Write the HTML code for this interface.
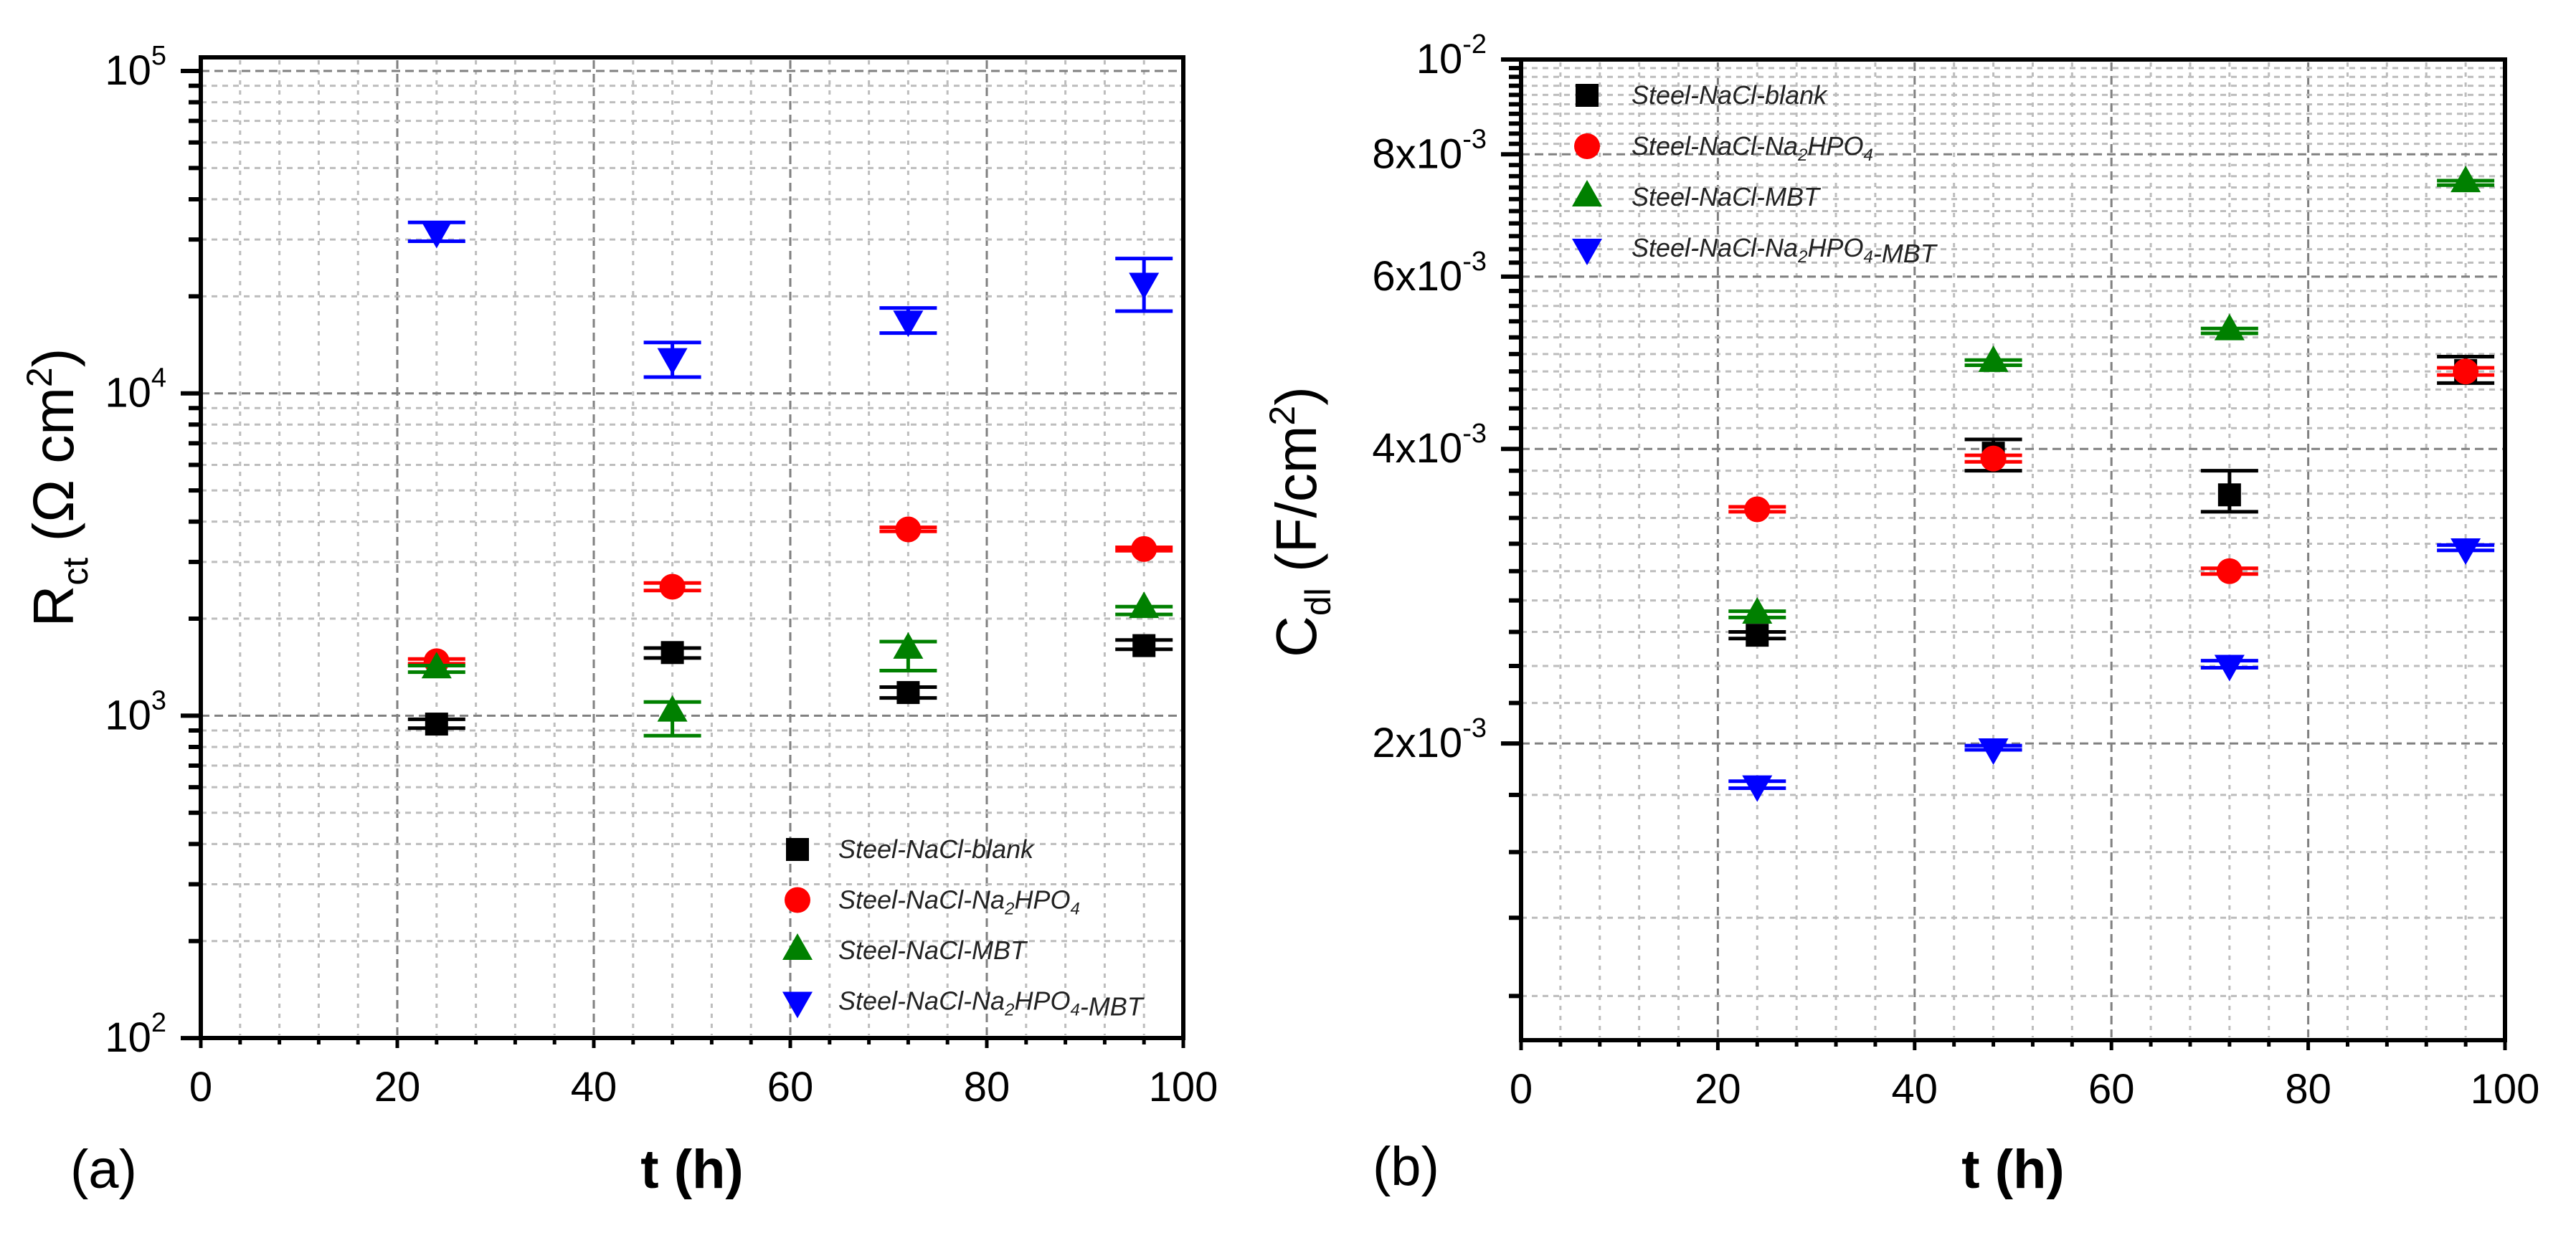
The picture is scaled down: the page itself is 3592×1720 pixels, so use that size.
<!DOCTYPE html>
<html><head><meta charset="utf-8"><style>
html,body{margin:0;padding:0;background:#fff;}
svg{display:block;font-family:"Liberation Sans",Arial,sans-serif;}
</style></head><body>
<svg id="fig" width="3592" height="1720" viewBox="0 0 3592 1720" xmlns="http://www.w3.org/2000/svg">
<g id="pa"></g>
<g id="pb"></g>
<text x="98" y="1657" font-size="76">(a)</text>
<text x="1914" y="1653" font-size="76">(b)</text>
<text x="965" y="1657" font-size="76" font-weight="bold" text-anchor="middle">t (h)</text>
<text x="2807" y="1657" font-size="76" font-weight="bold" text-anchor="middle">t (h)</text>
<text transform="translate(102,680) rotate(-90)" font-size="80" text-anchor="middle">R<tspan font-size="50" dy="20">ct</tspan><tspan dy="-20"> (Ω cm</tspan><tspan font-size="50" dy="-30">2</tspan><tspan dy="30">)</tspan></text>
<text transform="translate(1835,728) rotate(-90)" font-size="80" text-anchor="middle">C<tspan font-size="50" dy="20">dl</tspan><tspan dy="-20"> (F/cm</tspan><tspan font-size="50" dy="-30">2</tspan><tspan dy="30">)</tspan></text>
</svg>
<script>
// ---- data ----
const times = [24, 48, 72, 96];
const seriesNames = ["Steel-NaCl-blank", "Steel-NaCl-Na2HPO4", "Steel-NaCl-MBT", "Steel-NaCl-Na2HPO4-MBT"];
const xTicks = [0, 20, 40, 60, 80, 100];
// panel a: Rct (ohm cm2)
const rctBlank = [942, 1570, 1180, 1650];
const rctBlankHi = [975, 1622, 1227, 1718];
const rctBlankLo = [915, 1510, 1135, 1607];
const rctNa = [1476, 2512, 3784, 3290];
const rctNaHi = [1500, 2580, 3840, 3330];
const rctNaLo = [1450, 2445, 3730, 3250];
const rctMbt = [1396, 1025, 1606, 2148];
const rctMbtHi = [1430, 1103, 1698, 2180];
const rctMbtLo = [1365, 867, 1380, 2062];
const rctBoth = [31850, 12920, 16900, 22130];
const rctBothHi = [33900, 14380, 18400, 26190];
const rctBothLo = [29640, 11230, 15380, 17990];
const rctTickExp = [2, 3, 4, 5];
// panel b: Cdl (F/cm2)
const cdlBlank = [2.58e-3, 3.96e-3, 3.59e-3, 4.81e-3];
const cdlBlankHi = [2.60e-3, 4.09e-3, 3.80e-3, 4.97e-3];
const cdlBlankLo = [2.56e-3, 3.80e-3, 3.45e-3, 4.67e-3];
const cdlNa = [3.47e-3, 3.91e-3, 3.00e-3, 4.80e-3];
const cdlNaHi = [3.49e-3, 3.94e-3, 3.02e-3, 4.84e-3];
const cdlNaLo = [3.45e-3, 3.88e-3, 2.98e-3, 4.76e-3];
const cdlMbt = [2.71e-3, 4.90e-3, 5.28e-3, 7.48e-3];
const cdlMbtHi = [2.73e-3, 4.93e-3, 5.31e-3, 7.52e-3];
const cdlMbtLo = [2.69e-3, 4.87e-3, 5.25e-3, 7.44e-3];
const cdlBoth = [1.815e-3, 1.98e-3, 2.41e-3, 3.17e-3];
const cdlBothHi = [1.83e-3, 1.99e-3, 2.43e-3, 3.19e-3];
const cdlBothLo = [1.80e-3, 1.97e-3, 2.39e-3, 3.15e-3];
const cdlMajorTicks = [2e-3, 4e-3, 6e-3, 8e-3];
const cdlMajorLabels = ["2x10", "4x10", "6x10", "8x10"];
const cdlLowMinor = [1.104e-3, 1.327e-3, 1.549e-3, 1.772e-3];

const NS = "http://www.w3.org/2000/svg";
function mk(parent, tag, attrs) {
  const e = document.createElementNS(NS, tag);
  for (const k in attrs) e.setAttribute(k, attrs[k]);
  parent.appendChild(e);
  return e;
}
const colors = ["#000000", "#ff0000", "#008000", "#0000ff"];
const shapes = ["square", "circle", "up", "down"];

function marker(g, shape, cx, cy, color) {
  let e;
  if (shape === "square") e = mk(g, "rect", {x: cx - 16, y: cy - 16, width: 32, height: 32, fill: color});
  else if (shape === "circle") e = mk(g, "circle", {cx: cx, cy: cy, r: 18, fill: color});
  else if (shape === "up") e = mk(g, "polygon", {points: `${cx-21},${cy+13} ${cx+21},${cy+13} ${cx},${cy-24}`, fill: color});
  else e = mk(g, "polygon", {points: `${cx-21},${cy-13} ${cx+21},${cy-13} ${cx},${cy+24}`, fill: color});
  return e;
}

function panel(g, P, yScale, series, legend) {
  const X = v => P.x0 + (v / 100) * (P.x1 - P.x0);
  for (let v = 4; v < 100; v += 4) {
    const major = v % 20 === 0;
    const l = mk(g, "line", {x1: X(v), x2: X(v), y1: P.y0 + 4, y2: P.y1 - 4, stroke: major ? "#808080" : "#bdbdbd", "stroke-width": 3, "stroke-dasharray": major ? "12 7" : "6 8"});
    
    
  }
  P.hgrid.forEach(h => {
    const y = yScale(h.v);
    if (y <= P.y0 + 2 || y >= P.y1 - 2) return;
    const l = mk(g, "line", {x1: P.x0, x2: P.x1, y1: y, y2: y, stroke: h.major ? "#808080" : "#bdbdbd", "stroke-width": 3, "stroke-dasharray": h.major ? "12 7" : "8 7"});
    
    
  });
  P.yticks.forEach(h => {
    const y = yScale(h.v);
    const t = mk(g, "line", {x1: P.x0 - (h.major ? 28 : 17), x2: P.x0, y1: y, y2: y, stroke: "#000", "stroke-width": 6});
    
    
  });
  for (let v = 0; v <= 100; v += 4) {
    const major = v % 20 === 0;
    const t = mk(g, "line", {x1: X(v), x2: X(v), y1: P.y1, y2: P.y1 + (major ? 14 : 9), stroke: "#000", "stroke-width": 5});
    
    
  }
  xTicks.forEach(v => {
    const t = mk(g, "text", {x: X(v), y: P.y1 + 88, "font-size": 58, "text-anchor": "middle"});
    t.textContent = v;
    
    
  });
  P.ylabels.forEach(L => {
    const y = yScale(L.v);
    const t = mk(g, "text", {x: P.labelX, y: y + 19, "font-size": 58, "text-anchor": "end"});
    const a = document.createElementNS(NS, "tspan"); a.textContent = L.base; t.appendChild(a);
    const b = document.createElementNS(NS, "tspan"); b.setAttribute("font-size", "38"); b.setAttribute("dy", "-28"); b.textContent = L.sup; t.appendChild(b);
    
    
  });
  const box = mk(g, "rect", {x: P.x0, y: P.y0, width: P.x1 - P.x0, height: P.y1 - P.y0, fill: "none", stroke: "#000", "stroke-width": 6});
  
  
  series.forEach((s, si) => {
    const sg = mk(g, "g", {});
    
    
    times.forEach((t, i) => {
      const cx = X(t), cy = yScale(s.v[i]), yh = yScale(s.hi[i]), yl = yScale(s.lo[i]);
      const eb = mk(sg, "path", {d: `M${cx},${yh}V${yl}M${cx-40},${yh}H${cx+40}M${cx-40},${yl}H${cx+40}`, stroke: colors[si], "stroke-width": 5, fill: "none"});
      
      
      const m = marker(sg, shapes[si], cx, cy, colors[si]);
      
      
    });
  });
  const lg = mk(g, "g", {});
  
  
  seriesNames.forEach((n, si) => {
    const cy = legend.y + si * legend.dy;
    const m = marker(lg, shapes[si], legend.mx, cy, colors[si]);
    
    
    const t = mk(lg, "text", {x: legend.tx, y: cy + 12, "font-size": 36, "font-style": "italic", fill: "#222"});
    const parts = n.split(/(Na2HPO4)/);
    parts.forEach(p => {
      if (p === "Na2HPO4") {
        [["Na",0],["2",1],["HPO",-1],["4",1]].forEach(([s, sub]) => {
          const ts = document.createElementNS(NS, "tspan");
          ts.textContent = s;
          if (sub === 1) { ts.setAttribute("font-size", "24"); ts.setAttribute("dy", "8"); }
          else if (sub === -1) ts.setAttribute("dy", "-8");
          t.appendChild(ts);
        });
        const z = document.createElementNS(NS, "tspan"); z.setAttribute("dy", "-8"); z.textContent = ""; t.appendChild(z);
      } else if (p) {
        const ts = document.createElementNS(NS, "tspan"); ts.textContent = p; t.appendChild(ts);
      }
    });
    
    
  });
}

const PA = {x0: 280, x1: 1650, y0: 80, y1: 1448, labelX: 232, hgrid: [], yticks: [], ylabels: []};
const yA = v => 99 + (5 - Math.log10(v)) * 449.7;
rctTickExp.forEach(e => {
  PA.ylabels.push({v: Math.pow(10, e), base: "10", sup: String(e)});
});
for (let e = 2; e <= 4; e++) for (let m = 1; m <= 9; m++) {
  const v = m * Math.pow(10, e);
  PA.hgrid.push({v: v, major: m === 1});
  PA.yticks.push({v: v, major: m === 1});
}
PA.hgrid.push({v: 1e5, major: true}); PA.yticks.push({v: 1e5, major: true});
panel(document.getElementById("pa"), PA, yA, [
  {v: rctBlank, hi: rctBlankHi, lo: rctBlankLo},
  {v: rctNa, hi: rctNaHi, lo: rctNaLo},
  {v: rctMbt, hi: rctMbtHi, lo: rctMbtLo},
  {v: rctBoth, hi: rctBothHi, lo: rctBothLo}
], {mx: 1112, tx: 1169, y: 1185, dy: 70.5});

const PB = {x0: 2121, x1: 3493, y0: 83, y1: 1451, labelX: 2073, hgrid: [], yticks: [], ylabels: []};
const yB = v => 83 + (-2 - Math.log10(v)) * 1365;
cdlMajorTicks.forEach((v, i) => {
  PB.ylabels.push({v: v, base: cdlMajorLabels[i], sup: "-3"});
});
PB.ylabels.push({v: 1e-2, base: "10", sup: "-2"});
cdlLowMinor.forEach(v => { PB.hgrid.push({v: v, major: false}); PB.yticks.push({v: v, major: false}); });
for (let k = 10; k <= 50; k++) {
  const v = k * 2e-4;
  const major = (k % 10 === 0);
  PB.hgrid.push({v: v, major: major});
  PB.yticks.push({v: v, major: major});
}
panel(document.getElementById("pb"), PB, yB, [
  {v: cdlBlank, hi: cdlBlankHi, lo: cdlBlankLo},
  {v: cdlNa, hi: cdlNaHi, lo: cdlNaLo},
  {v: cdlMbt, hi: cdlMbtHi, lo: cdlMbtLo},
  {v: cdlBoth, hi: cdlBothHi, lo: cdlBothLo}
], {mx: 2213, tx: 2275, y: 133, dy: 71});
</script>
</body></html>
